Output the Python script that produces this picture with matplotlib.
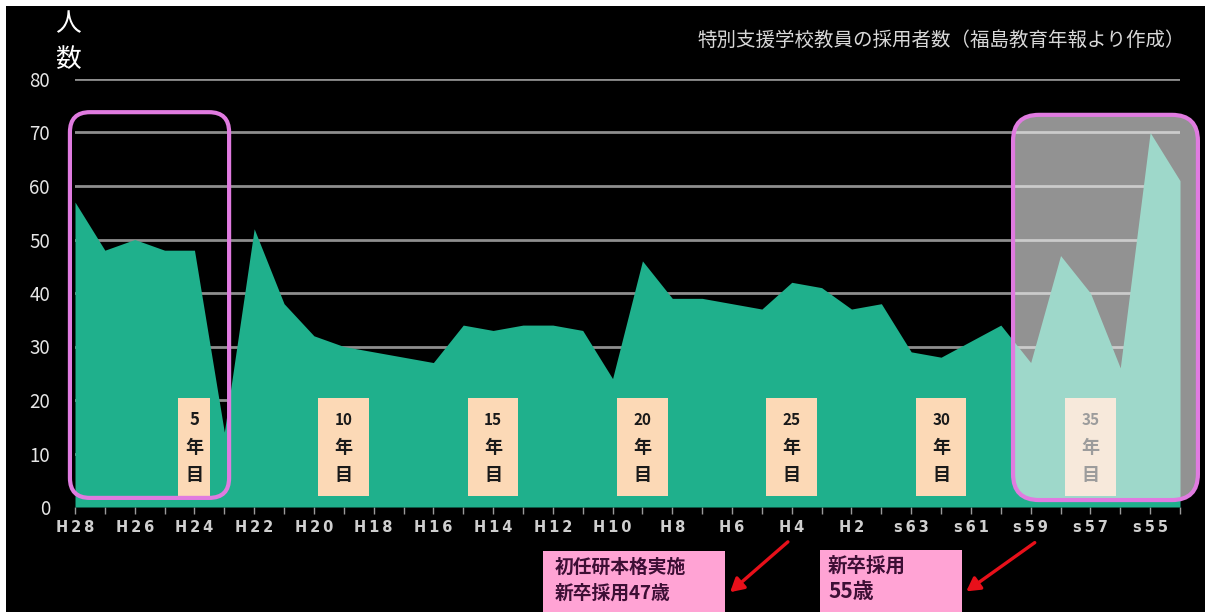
import matplotlib
matplotlib.use('Agg')
import matplotlib.pyplot as plt
from matplotlib.patches import Rectangle, FancyBboxPatch

plt.rcParams['font.family'] = ['Noto Sans CJK JP', 'DejaVu Sans']

# fiscal years, newest first (Heisei 28 back to Showa 54)
years = ['H28', 'H27', 'H26', 'H25', 'H24', 'H23', 'H22', 'H21', 'H20', 'H19',
         'H18', 'H17', 'H16', 'H15', 'H14', 'H13', 'H12', 'H11', 'H10', 'H9',
         'H8', 'H7', 'H6', 'H5', 'H4', 'H3', 'H2', 'H1', 'S63', 'S62',
         'S61', 'S60', 'S59', 'S58', 'S57', 'S56', 'S55', 'S54']
# teachers hired at special-needs schools each year
counts = [57, 48, 50, 48, 48, 14, 52, 38, 32, 30,
          29, 28, 27, 34, 33, 34, 34, 33, 24, 46,
          39, 39, 38, 37, 42, 41, 37, 38, 29, 28,
          31, 34, 27, 47, 40, 26, 70, 61]
# years of service markers
service_idx = [4, 9, 14, 19, 24, 29, 34]
service_yrs = ['5', '10', '15', '20', '25', '30', '35']

title = '特別支援学校教員の採用者数（福島教育年報より作成）'
note1 = ['初任研本格実施', '新卒採用47歳']
note2 = ['新卒採用', '55歳']

W, H = 1205, 612
green = '#1fb08c'
violet = '#e07be0'
peach = '#fcd9b6'
pink = '#ffa3d4'

fig = plt.figure(figsize=(W / 100, H / 100), dpi=100, facecolor='white')
fig.patches.append(Rectangle((6 / W, 0), 1 - 6 / W, 1 - 6 / H,
                             transform=fig.transFigure, fc='black', ec='none',
                             zorder=-10))

ax = fig.add_axes([75 / W, 105 / H, 1105 / W, 428 / H])
ax.set_facecolor('black')
n = len(counts)
x = list(range(n))
ax.set_xlim(0, n - 1)
ax.set_ylim(0, 80)

for v in range(10, 90, 10):
    ax.axhline(v, color='#8e8e8e', lw=2, zorder=1)
ax.fill_between(x, counts, 0, color=green, lw=0, zorder=2)

for s in ax.spines.values():
    s.set_visible(False)

ax.set_yticks(range(0, 90, 10))
ax.tick_params(axis='y', length=0, pad=18, labelsize=13.5, labelcolor='#e6e6e6')
ax.set_xticks(x)
ax.set_xticklabels(['\u2009'.join(y.replace('S', 's')) if i % 2 == 0 else ''
                    for i, y in enumerate(years)],
                   fontsize=10.5, fontweight='bold', color='#cfcfcf',
                   family='DejaVu Sans')
ax.tick_params(axis='x', length=5, width=1, color='#9a9a9a', pad=4)

# years-of-service tags
for i, lab in zip(service_idx, service_yrs):
    w = 1.07 if len(lab) == 1 else 1.7
    ax.add_patch(Rectangle((i - w / 2, 2), w, 18.3, fc=peach, ec='none', zorder=3))
    ax.text(i, 16.2, lab, ha='center', va='center', fontsize=12 if len(lab) == 1 else 11,
            fontweight='bold', color='#1a1a1a', zorder=4)
    ax.text(i, 11.2, '年', ha='center', va='center', fontsize=13,
            fontweight='bold', color='#1a1a1a', zorder=4)
    ax.text(i, 5.9, '目', ha='center', va='center', fontsize=13,
            fontweight='bold', color='#1a1a1a', zorder=4)

# highlight frames (rounded, corrected for the axes aspect)
px_x = ax.bbox.width / (n - 1)
px_y = ax.bbox.height / 80
asp = px_x / px_y

def frame(x0, x1, y0, y1, r_px, fill=False):
    r = r_px / px_x
    if fill:
        ax.add_patch(FancyBboxPatch((x0, y0), x1 - x0, y1 - y0,
                                    boxstyle=f'round,pad=0,rounding_size={r}',
                                    mutation_aspect=asp, fc='#f4f4f4', alpha=0.6,
                                    ec='none', zorder=5, clip_on=False))
    ax.add_patch(FancyBboxPatch((x0, y0), x1 - x0, y1 - y0,
                                boxstyle=f'round,pad=0,rounding_size={r}',
                                mutation_aspect=asp, fc='none', ec=violet,
                                lw=3, zorder=6, clip_on=False))

frame(-0.17, 5.16, 1.7, 73.8, 20)
frame(31.41, 37.6, 1.3, 73.3, 26, fill=True)

# texts placed in figure pixels (origin top-left converted)
def fy(y):
    return (H - y) / H

fig.text(1185 / W, fy(40), title, ha='right', va='center', fontsize=14,
         color='#d8d8d8')
fig.text(68 / W, fy(24), '人', ha='center', va='center', fontsize=18.5, color='white')
fig.text(68 / W, fy(60), '数', ha='center', va='center', fontsize=18.5, color='white')

# notes under the axis
fig.patches.append(Rectangle((543 / W, 0), (725 - 543) / W, (H - 551) / H,
                             transform=fig.transFigure, fc=pink, ec='none'))
fig.patches.append(Rectangle((820 / W, 0), (962 - 820) / W, (H - 550) / H,
                             transform=fig.transFigure, fc=pink, ec='none'))
fig.text(555 / W, fy(567), note1[0], ha='left', va='center', fontsize=13.5,
         fontweight='bold', color='#3d0f35')
fig.text(555 / W, fy(593), note1[1], ha='left', va='center', fontsize=13.5,
         fontweight='bold', color='#3d0f35')
fig.text(828 / W, fy(566), note2[0], ha='left', va='center', fontsize=14,
         fontweight='bold', color='#3d0f35')
fig.text(828 / W, fy(592), note2[1], ha='left', va='center', fontsize=15,
         fontweight='bold', color='#3d0f35')

arrow = dict(arrowstyle='-|>,head_length=0.8,head_width=0.45', color='#e8101a', lw=2.4)
ax.annotate('', xy=(728, H - 594), xytext=(790, H - 540),
            xycoords='figure pixels', textcoords='figure pixels', arrowprops=arrow)
ax.annotate('', xy=(964, H - 593), xytext=(1037, H - 541),
            xycoords='figure pixels', textcoords='figure pixels', arrowprops=arrow)

fig.savefig('out.png', dpi=100, facecolor=fig.get_facecolor())
